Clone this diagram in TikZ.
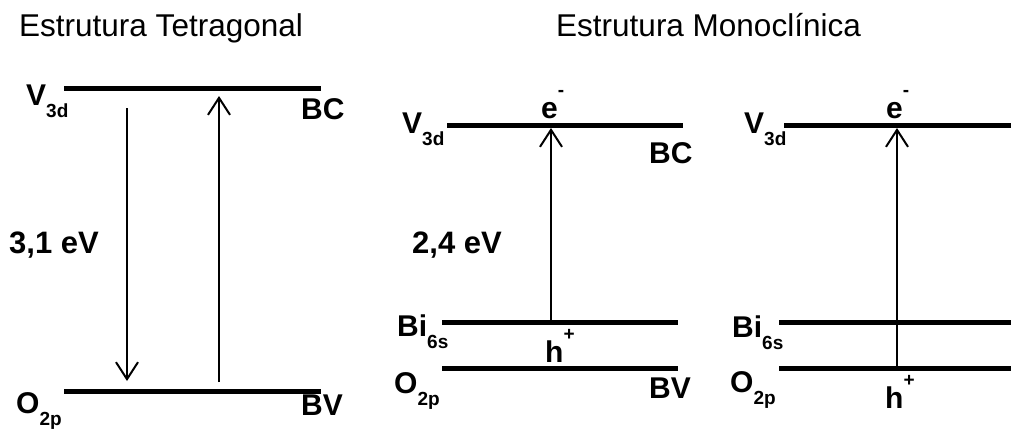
\documentclass[tikz,border=0pt]{standalone}
\usepackage{fontspec}
\setmainfont{Liberation Sans}
\usepackage{tikz}
\usetikzlibrary{arrows.meta, positioning}

\newcommand{\orb}[2]{#1\raisebox{-12pt}{\fontsize{19}{19}\selectfont #2}}
\newcommand{\carrier}[2]{#1\raisebox{22pt}{\fontsize{19}{19}\selectfont #2}}

\begin{document}
\begin{tikzpicture}[
    x=1pt, y=-1pt,
    level/.style={line width=5pt},
    lbl/.style={anchor=base west, inner sep=0pt, font=\fontsize{30}{30}\selectfont\bfseries},
    gap/.style={anchor=base west, inner sep=0pt, font=\fontsize{31}{31}\selectfont\bfseries},
    ttl/.style={anchor=base west, inner sep=0pt, font=\fontsize{31.5}{31.5}\selectfont},
    trans/.style={-{Straight Barb[length=17pt, width=22pt, line width=2pt]}, line width=2pt},
]
    \useasboundingbox (0,0) rectangle (1011,428);

    % Titles
    \node[ttl] (ttet) at (19,37) {Estrutura Tetragonal};
    \node[ttl] (tmono) at (556,37) {Estrutura Monoclínica};

    % Tetragonal
    \coordinate (tcb-l) at (64,88);  \coordinate (tcb-r) at (321,88);
    \coordinate (tvb-l) at (64,391); \coordinate (tvb-r) at (321,391);
    \draw[level] (tcb-l) -- (tcb-r);
    \draw[level] (tvb-l) -- (tvb-r);
    \node[lbl] (tv3d) at (26,105) {\orb{V}{3d}};
    \node[lbl] (tbc) at (301,119) {BC};
    \node[gap] (tgap) at (9,253) {3,1 eV};
    \node[lbl] (to2p) at (16,413) {\orb{O}{2p}};
    \node[lbl] (tbv) at (301,415) {BV};
    \coordinate (tdown-s) at (127,108); \coordinate (tdown-e) at (127,381);
    \coordinate (tup-s) at (219,382);   \coordinate (tup-e) at (219,96);
    \draw[trans] (tdown-s) -- (tdown-e);
    \draw[trans] (tup-s) -- (tup-e);

    % Monoclinic, Bi 6s -> V 3d
    \coordinate (mcb-l) at (447,125); \coordinate (mcb-r) at (683,125);
    \coordinate (mbi-l) at (442,322); \coordinate (mbi-r) at (678,322);
    \coordinate (mo-l) at (442,368);  \coordinate (mo-r) at (678,368);
    \draw[level] (mcb-l) -- (mcb-r);
    \draw[level] (mbi-l) -- (mbi-r);
    \draw[level] (mo-l) -- (mo-r);
    \node[lbl] (mv3d) at (402,133) {\orb{V}{3d}};
    \node[lbl] (me) at (541,118) {\carrier{e}{-}};
    \node[lbl] (mbc) at (649,163) {BC};
    \node[gap] (mgap) at (412,253) {2,4 eV};
    \node[lbl] (mbi6s) at (397,336) {\orb{Bi}{6s}};
    \node[lbl] (mh) at (545,362) {\carrier{h}{+}};
    \node[lbl] (mo2p) at (394,393) {\orb{O}{2p}};
    \node[lbl] (mbv) at (649,398) {BV};
    \coordinate (mup-s) at (551,322); \coordinate (mup-e) at (551,128);
    \draw[trans] (mup-s) -- (mup-e);

    % Monoclinic, O 2p -> V 3d
    \coordinate (rcb-l) at (784,125); \coordinate (rcb-r) at (1011,125);
    \coordinate (rbi-l) at (779,322); \coordinate (rbi-r) at (1011,322);
    \coordinate (ro-l) at (779,368);  \coordinate (ro-r) at (1011,368);
    \draw[level] (rcb-l) -- (rcb-r);
    \draw[level] (rbi-l) -- (rbi-r);
    \draw[level] (ro-l) -- (ro-r);
    \node[lbl] (rv3d) at (744,133) {\orb{V}{3d}};
    \node[lbl] (re) at (886,118) {\carrier{e}{-}};
    \node[lbl] (rbi6s) at (732,337) {\orb{Bi}{6s}};
    \node[lbl] (rh) at (885,408) {\carrier{h}{+}};
    \node[lbl] (ro2p) at (730,392) {\orb{O}{2p}};
    \coordinate (rup-s) at (897,368); \coordinate (rup-e) at (897,128);
    \draw[trans] (rup-s) -- (rup-e);

\end{tikzpicture}
\end{document}
